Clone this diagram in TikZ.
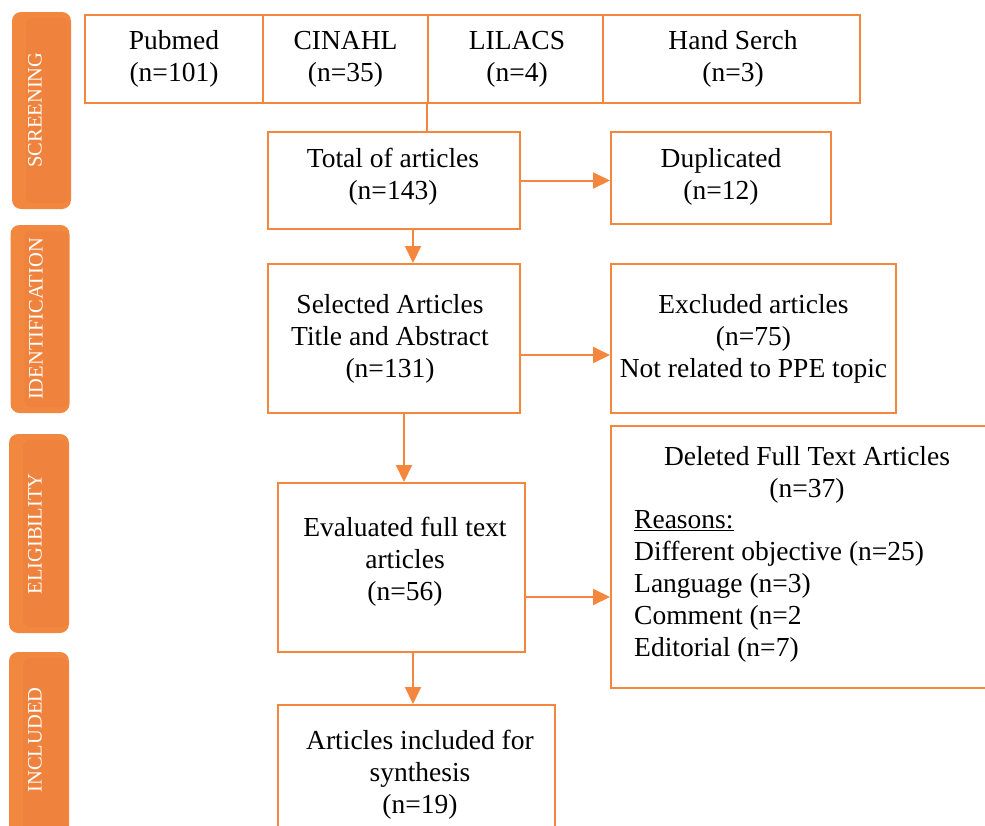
\documentclass[tikz,border=0pt]{standalone}
\usepackage{fontspec}
\setmainfont{Liberation Serif}
\usetikzlibrary{arrows.meta}
\definecolor{boxor}{RGB}{244,134,62}
\definecolor{sideout}{RGB}{242,135,64}
\definecolor{sidein}{RGB}{239,130,60}
\begin{document}
\begin{tikzpicture}[x=1pt,y=-1pt,
  box/.style={draw=boxor, line width=2pt, inner sep=0pt, fill=white},
  txt/.style={font=\fontsize{27.5}{32}\selectfont, align=center, inner sep=0pt},
  ltxt/.style={font=\fontsize{27.5}{32}\selectfont, align=left, inner sep=0pt, anchor=west},
  sidebox/.style={fill=sideout, rounded corners=9pt, inner sep=0pt},
  sideinner/.style={fill=sidein, rounded corners=7pt, inner sep=0pt},
  sidetxt/.style={text=white, rotate=90, font=\fontsize{20.5}{24}\selectfont, inner sep=0pt},
  arr/.style={draw=boxor, line width=2pt, -{Triangle[length=17pt,width=16pt]}},
  ln/.style={draw=boxor, line width=2pt}]
\clip (0,0) rectangle (985,825);
\fill[white] (0,0) rectangle (985,825);

% side bars
\node[sidebox, minimum width=59, minimum height=197] (s1) at (41.5,110.5) {};
\node[sideinner, minimum width=44, minimum height=185] (s1i) at (48,110.5) {};
\node[sidetxt] (s1t) at (35,110) {SCREENING};
\node[sidebox, minimum width=59, minimum height=188] (s2) at (40,319) {};
\node[sideinner, minimum width=44, minimum height=176] (s2i) at (46.5,319) {};
\node[sidetxt] (s2t) at (36,319) {IDENTIFICATION};
\node[sidebox, minimum width=60, minimum height=199] (s3) at (39,533.5) {};
\node[sideinner, minimum width=45, minimum height=187] (s3i) at (45.5,533.5) {};
\node[sidetxt] (s3t) at (35,534) {ELIGIBILITY};
\node[sidebox, minimum width=60, minimum height=200] (s4) at (39,752) {};
\node[sideinner, minimum width=45, minimum height=188] (s4i) at (45.5,752) {};
\node[sidetxt] (s4t) at (35,740) {INCLUDED};

% top row
\node[box, minimum width=178, minimum height=88] (pub) at (174,59) {};
\node[box, minimum width=165, minimum height=88] (cin) at (345.5,59) {};
\node[box, minimum width=175, minimum height=88] (lil) at (515.5,59) {};
\node[box, minimum width=257, minimum height=88] (hand) at (731.5,59) {};
\node[txt] (pubt) at (174,59) {Pubmed\\(n=101)};
\node[txt] (cint) at (345.5,59) {CINAHL\\(n=35)};
\node[txt] (lilt) at (517,59) {LILACS\\(n=4)};
\node[txt] (handt) at (733,59) {Hand Serch\\(n=3)};

% main boxes
\node[box, minimum width=252, minimum height=97] (total) at (394,180.5) {};
\node[txt] (totalt) at (393,176.5) {Total of articles\\(n=143)};
\node[box, minimum width=220, minimum height=92] (dup) at (721,178) {};
\node[txt] (dupt) at (721,176.5) {Duplicated\\(n=12)};
\node[box, minimum width=252, minimum height=149] (sel) at (394,338.5) {};
\node[txt] (selt) at (390,338.5) {Selected Articles\\Title and Abstract\\(n=131)};
\node[box, minimum width=285, minimum height=149] (excl) at (753.5,338.5) {};
\node[txt] (exclt) at (753.5,338.5) {Excluded articles\\(n=75)\\Not related to PPE topic};
\node[box, minimum width=247, minimum height=169] (eval) at (401.5,567.5) {};
\node[txt] (evalt) at (405,561.5) {Evaluated full text\\articles\\(n=56)};
\node[box, minimum width=390, minimum height=262] (del) at (806,557) {};
\node[txt] (delt) at (807,474.5) {Deleted Full Text Articles\\(n=37)};
\node[ltxt] (dell) at (634,586.5) {\underline{Reasons:}\\Different objective (n=25)\\Language (n=3)\\Comment (n=2\\Editorial (n=7)};
\node[box, minimum width=277, minimum height=140] (art) at (416.5,775) {};
\node[txt] (artt) at (420,774.5) {Articles included for\\synthesis\\(n=19)};

% connectors
\draw[ln] (lil.south west) -- (lil.south west |- total.north);
\draw[arr] (total.east) -- (total.east -| dup.west);
\draw[arr] (total.south -| 413,0) -- (sel.north -| 413,0);
\draw[arr] (sel.east |- 0,355) -- (excl.west |- 0,355);
\draw[arr] (sel.south -| 404,0) -- (eval.north -| 404,0);
\draw[arr] (eval.east |- 0,597) -- (del.west |- 0,597);
\draw[arr] (eval.south -| 413,0) -- (art.north -| 413,0);
\end{tikzpicture}
\end{document}
